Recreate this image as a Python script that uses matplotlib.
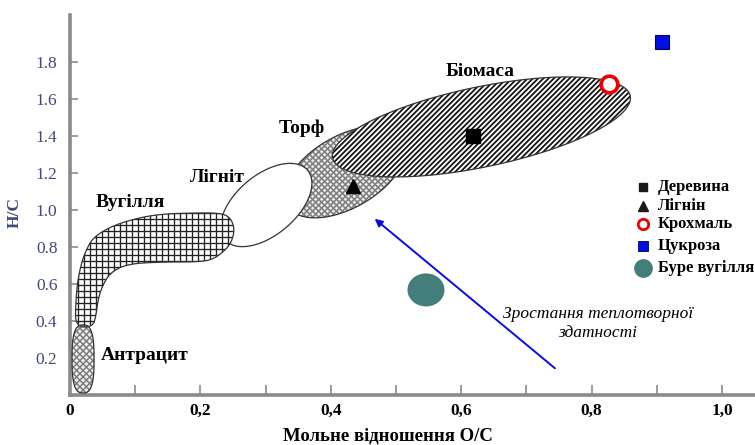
import matplotlib
matplotlib.use("Agg")
import matplotlib.pyplot as plt
import numpy as np
from matplotlib.patches import Polygon
from matplotlib.lines import Line2D
from matplotlib.collections import LineCollection

# ---------------------------------------------------------------
# values (O/C on x, H/C on y)
# ---------------------------------------------------------------
point_names = ["Деревина", "Лігнін", "Крохмаль", "Цукроза"]
point_oc = [0.618, 0.434, 0.827, 0.908]
point_hc = [1.40, 1.13, 1.68, 1.91]

brown_coal_oc = 0.546
brown_coal_hc = 0.568

# elliptic regions: centre in data units
region_names = ["Біомаса", "Торф", "Лігніт"]
region_oc = [0.631, 0.422, 0.301]
region_hc = [1.449, 1.205, 1.027]

anthracite_oc = 0.020
anthracite_hc = 0.195

# outline of the coal band
coal_oc = [0.008, 0.009, 0.012, 0.018, 0.025, 0.035, 0.061, 0.097, 0.138, 0.189,
           0.230, 0.245, 0.252, 0.250, 0.242, 0.221, 0.199, 0.138, 0.087, 0.061,
           0.049, 0.043, 0.040, 0.035]
coal_hc = [0.368, 0.514, 0.622, 0.719, 0.784, 0.849, 0.908, 0.951, 0.978, 0.984,
           0.984, 0.962, 0.908, 0.849, 0.795, 0.735, 0.719, 0.719, 0.708, 0.659,
           0.584, 0.514, 0.432, 0.368]

label_names = ["Біомаса", "Торф", "Лігніт", "Вугілля", "Антрацит"]
label_oc = [0.629, 0.356, 0.2255, 0.092, 0.115]
label_hc = [1.746, 1.443, 1.173, 1.038, 0.211]

arrow_from = (0.747, 0.135)
arrow_to = (0.464, 0.962)

SERIF = "Liberation Serif"
AXIS_BLUE = "#404a78"
SPINE = "#8a8a8a"


def blob(ax, cx, cy, a, b, ang, p=2.0, n=240):
    """Superellipse given in screen pixels around a data point, returned in data units."""
    t = np.linspace(0, 2 * np.pi, n)
    c, s = np.cos(t), np.sin(t)
    u = a * np.sign(c) * np.abs(c) ** (2 / p)
    v = b * np.sign(s) * np.abs(s) ** (2 / p)
    r = np.deg2rad(ang)
    px = u * np.cos(r) - v * np.sin(r)
    py = u * np.sin(r) + v * np.cos(r)
    x0, y0 = ax.transData.transform((cx, cy))
    return ax.transData.inverted().transform(np.column_stack([x0 + px, y0 + py]))


def chaikin(pts, rounds=2):
    pts = np.asarray(pts, float)
    for _ in range(rounds):
        nxt = np.roll(pts, -1, axis=0)
        q = 0.75 * pts + 0.25 * nxt
        r = 0.25 * pts + 0.75 * nxt
        pts = np.empty((2 * len(pts), 2))
        pts[0::2], pts[1::2] = q, r
    return pts


def shaded(ax, verts, angles, step, lw, color, z, face="white"):
    """Region filled with parallel line sets (step in pixels), clipped to its outline."""
    body = Polygon(verts, closed=True, facecolor=face, edgecolor="none", zorder=z)
    ax.add_patch(body)
    disp = ax.transData.transform(verts)
    mid = disp.mean(axis=0)
    span = np.hypot(*(disp.max(axis=0) - disp.min(axis=0)))
    inv = ax.transData.inverted()
    segs = []
    for ang in angles:
        r = np.deg2rad(ang)
        d = np.array([np.cos(r), np.sin(r)])
        nrm = np.array([-d[1], d[0]])
        for k in np.arange(-span / 2, span / 2, step):
            p0 = mid + nrm * k - d * span / 2
            p1 = mid + nrm * k + d * span / 2
            segs.append(inv.transform([p0, p1]))
    lc = LineCollection(segs, colors=color, linewidths=lw, zorder=z + 0.05)
    lc.set_clip_path(body)
    ax.add_collection(lc, autolim=False)
    ax.add_patch(Polygon(verts, closed=True, fill=False, edgecolor="#333333",
                         linewidth=0.9, zorder=z + 0.1))


fig = plt.figure(figsize=(7.55, 4.45), dpi=100)
ax = fig.add_axes([70 / 755, 50 / 445, 685 / 755, 380 / 445])
ax.set_xlim(0, 1.0506)
ax.set_ylim(0, 2.054)

# regions, back to front
bio = blob(ax, region_oc[0], region_hc[0], 152, 40, 11.8)
peat = blob(ax, region_oc[1], region_hc[1], 67, 36, 30)
lig = blob(ax, region_oc[2], region_hc[2], 54, 30, 40)
anth = blob(ax, anthracite_oc, anthracite_hc, 11, 34, 0, p=2.8)
coal = chaikin(np.column_stack([coal_oc, coal_hc]))

shaded(ax, peat, [45, -45], 4.2, 1.15, "#7e7e7e", 1, face="#eeeeee")
shaded(ax, bio, [45], 3.7, 1.3, "#151515", 2)
ax.add_patch(Polygon(lig, closed=True, facecolor="white", edgecolor="#333333",
                     linewidth=0.9, zorder=3))
shaded(ax, coal, [0, 90], 6.0, 0.95, "#222222", 4)
shaded(ax, anth, [45, -45], 4.6, 1.0, "#767676", 4, face="#eeeeee")

teal = blob(ax, brown_coal_oc, brown_coal_hc, 18.5, 16.5, 0)
ax.add_patch(Polygon(teal, closed=True, facecolor="#437e7b", edgecolor="none", zorder=5))

# single compounds
ax.plot(point_oc[0], point_hc[0], "s", color="black", ms=10, zorder=6)
ax.plot(point_oc[1], point_hc[1], "^", color="black", ms=9.5, zorder=6)
ax.plot(point_oc[2], point_hc[2], "o", mfc="white", mec="#ee0000", mew=2.6, ms=12, zorder=6)
ax.plot(point_oc[3], point_hc[3], "s", mfc="#0010e0", mec="#000060", mew=0.8, ms=10.5,
        zorder=6, clip_on=False)

for name, x, y in zip(label_names, label_oc, label_hc):
    ax.text(x, y, name, ha="center", va="center", fontsize=14, fontweight="bold",
            family=SERIF, zorder=7)

ax.annotate("", xy=arrow_to, xytext=arrow_from,
            arrowprops=dict(arrowstyle="-|>", color="#0a0ae6", lw=1.4, mutation_scale=11))
ax.text(0.810, 0.387, "Зростання теплотворної\nздатності", ha="center", va="center",
        fontsize=12.5, style="italic", family=SERIF, linespacing=1.3)

# legend drawn by hand to match the original spacing
leg_names = point_names + ["Буре вугілля"]
leg_rows = [187, 206, 224, 246, 268]
leg_style = [dict(marker="s", color="#1a1a1a", ms=5.5),
             dict(marker="^", color="#1a1a1a", ms=7),
             dict(marker="o", mfc="white", mec="#ee0000", mew=2, ms=7.5),
             dict(marker="s", mfc="#0010e0", mec="#000060", mew=0.6, ms=6.5),
             dict(marker="o", color="#437e7b", ms=12.5)]
for name, row, st in zip(leg_names, leg_rows, leg_style):
    yf = 1 - row / 445
    fig.add_artist(Line2D([643 / 755], [yf], linestyle="none",
                          transform=fig.transFigure, **st))
    fig.text(658 / 755, yf, name, ha="left", va="center", fontsize=12,
             fontweight="bold", family=SERIF)

# axes
for side in ["top", "right"]:
    ax.spines[side].set_visible(False)
for side in ["left", "bottom"]:
    ax.spines[side].set_color(SPINE)
    ax.spines[side].set_linewidth(2.6)

ax.set_xticks(np.arange(0, 1.01, 0.1))
ax.set_xticklabels(["0", "", "0,2", "", "0,4", "", "0,6", "", "0,8", "", "1,0"])
ax.set_yticks(np.arange(0.2, 1.81, 0.2))
ax.set_yticklabels([f"{v:.1f}" for v in np.arange(0.2, 1.81, 0.2)])
ax.tick_params(axis="x", direction="in", length=7, width=1.2, color=SPINE, pad=6,
               labelsize=12.5)
ax.tick_params(axis="y", direction="in", length=6, width=1.2, color=SPINE, pad=9,
               labelsize=12.5, labelcolor=AXIS_BLUE)
for lab in ax.get_xticklabels():
    lab.set_family(SERIF)
    lab.set_fontweight("bold")
for lab in ax.get_yticklabels():
    lab.set_family(SERIF)

ax.set_xlabel("Мольне відношення О/С", family=SERIF, fontsize=13.5, fontweight="bold")
ax.xaxis.set_label_coords(0.464, -0.086)
ax.set_ylabel("H/C", family=SERIF, fontsize=12.5, fontweight="bold", color=AXIS_BLUE)
ax.yaxis.set_label_coords(-0.0686, 0.479)

fig.savefig("out.png", dpi=100)
